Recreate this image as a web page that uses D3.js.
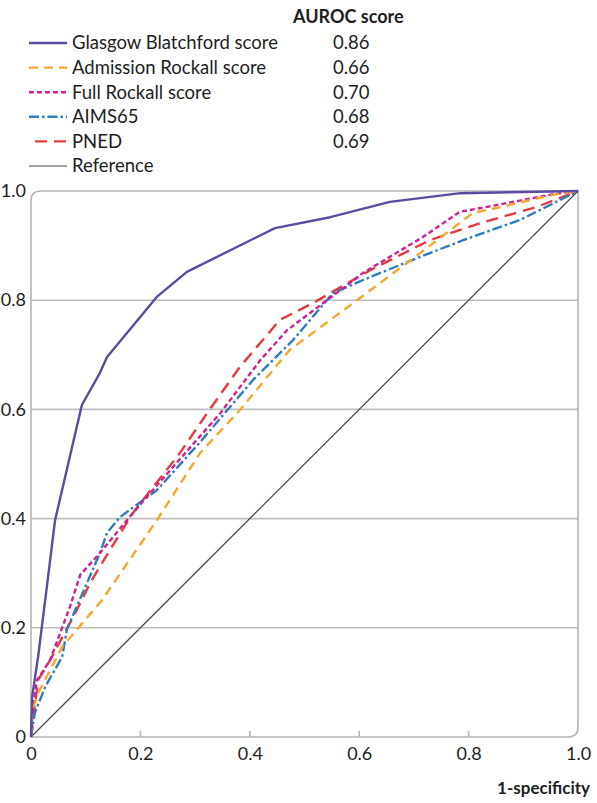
<!DOCTYPE html>
<html>
<head>
<meta charset="utf-8">
<script src="https://cdn.jsdelivr.net/npm/d3@7"></script>
<style>
  body { margin: 0; background: #fff; }
  svg { font-family: Lato, 'Open Sans', sans-serif; }
</style>
</head>
<body>
<svg id="roc" width="597" height="803"></svg>
<script>
// [1-specificity, sensitivity]
const glasgow = [[0, 0], [0.002, 0.073], [0.013, 0.147], [0.026, 0.251], [0.044, 0.397], [0.093, 0.608], [0.126, 0.667], [0.139, 0.696], [0.23, 0.806], [0.285, 0.852], [0.446, 0.932], [0.547, 0.952], [0.656, 0.98], [0.785, 0.996], [1, 1]]
const admission = [[0, 0], [0.002, 0.049], [0.016, 0.086], [0.057, 0.165], [0.13, 0.251], [0.23, 0.397], [0.309, 0.52], [0.382, 0.599], [0.473, 0.709], [0.596, 0.8], [0.711, 0.886], [0.808, 0.96], [0.852, 0.969], [0.954, 0.993], [1, 1]]
const fullRockall = [[0, 0], [0.004, 0.06], [0.011, 0.104], [0.035, 0.141], [0.071, 0.238], [0.09, 0.297], [0.126, 0.337], [0.186, 0.41], [0.26, 0.495], [0.346, 0.593], [0.419, 0.69], [0.468, 0.745], [0.541, 0.8], [0.607, 0.85], [0.717, 0.916], [0.784, 0.962], [0.834, 0.971], [0.954, 0.994], [1, 1]]
const aims65 = [[0, 0], [0.007, 0.044], [0.026, 0.092], [0.057, 0.147], [0.066, 0.198], [0.126, 0.337], [0.139, 0.374], [0.163, 0.403], [0.23, 0.452], [0.309, 0.54], [0.406, 0.654], [0.479, 0.727], [0.552, 0.813], [0.607, 0.837], [0.698, 0.874], [0.79, 0.91], [0.894, 0.947], [1, 1]]
const pned = [[0, 0], [0.013, 0.104], [0.035, 0.141], [0.084, 0.233], [0.108, 0.282], [0.144, 0.342], [0.186, 0.41], [0.272, 0.52], [0.322, 0.593], [0.382, 0.678], [0.455, 0.764], [0.516, 0.795], [0.62, 0.855], [0.729, 0.91], [0.821, 0.941], [0.925, 0.971], [1, 1]]
const reference = [[0, 0], [1, 1]]

const seriesNames = ['Glasgow Blatchford score', 'Admission Rockall score', 'Full Rockall score', 'AIMS65', 'PNED', 'Reference']
const aurocScores = ['0.86', '0.66', '0.70', '0.68', '0.69', '']
const xTicks = [0, 0.2, 0.4, 0.6, 0.8, 1]
const yTicks = [0, 0.2, 0.4, 0.6, 0.8, 1]

const series = [
  { values: glasgow, color: '#5b4c9f', dash: null, width: 2.4 },
  { values: admission, color: '#f6a731', dash: '9,6', width: 2.4 },
  { values: fullRockall, color: '#cf2190', dash: '5,3', width: 2.4 },
  { values: aims65, color: '#2f7cbd', dash: '10,3,2.5,3', width: 2.4 },
  { values: pned, color: '#e53a40', dash: '12,7', width: 2.4 },
  { values: reference, color: '#444', dash: null, width: 1.2 }
]

const svg = d3.select('#roc')
const x = d3.scaleLinear().domain([0, 1]).range([31, 578])
const y = d3.scaleLinear().domain([0, 1]).range([737, 191])

// grid
svg.append('g')
  .selectAll('line')
  .data(yTicks.filter(d => d > 0 && d < 1))
  .enter()
  .append('line')
  .attr('x1', x(0))
  .attr('x2', x(1))
  .attr('y1', d => y(d))
  .attr('y2', d => y(d))
  .attr('stroke', '#bdbdbd')
  .attr('stroke-width', 1.6)

// frame, rounded top-left and bottom-right
const r = 10
const p = d3.path()
p.moveTo(x(0), y(0))
p.lineTo(x(0), y(1) + r)
p.quadraticCurveTo(x(0), y(1), x(0) + r, y(1))
p.lineTo(x(1), y(1))
p.lineTo(x(1), y(0) - r)
p.quadraticCurveTo(x(1), y(0), x(1) - r, y(0))
p.closePath()
svg.append('path')
  .attr('d', p.toString())
  .attr('fill', 'none')
  .attr('stroke', '#b5b5b5')
  .attr('stroke-width', 1.6)

svg.append('g')
  .selectAll('line')
  .data(xTicks.filter(d => d > 0 && d < 1))
  .enter()
  .append('line')
  .attr('x1', d => x(d))
  .attr('x2', d => x(d))
  .attr('y1', y(0))
  .attr('y2', y(0) - 6)
  .attr('stroke', '#b5b5b5')
  .attr('stroke-width', 1.6)

const fmt = d => (d === 0 ? '0' : d.toFixed(1))

const xAxis = svg.append('g')
  .attr('transform', 'translate(0,' + y(0) + ')')
  .call(d3.axisBottom(x).tickValues(xTicks).tickFormat(fmt).tickSize(0).tickPadding(10))
const yAxis = svg.append('g')
  .attr('transform', 'translate(' + x(0) + ',0)')
  .call(d3.axisLeft(y).tickValues(yTicks).tickFormat(fmt).tickSize(0).tickPadding(5))
;[xAxis, yAxis].forEach(a => {
  a.select('.domain').remove()
  a.selectAll('text')
    .attr('font-size', 18)
    .attr('font-family', 'Lato, sans-serif')
    .attr('fill', '#1e1e1e')
})

svg.append('text')
  .text('1-specificity')
  .attr('x', 590)
  .attr('y', 794)
  .attr('text-anchor', 'end')
  .attr('font-size', 17)
  .attr('font-weight', 'bold')
  .attr('fill', '#1e1e1e')

// curves
const line = d3.line().x(d => x(d[0])).y(d => y(d[1]))
svg.append('g')
  .selectAll('path')
  .data(series.slice().reverse())
  .enter()
  .append('path')
  .attr('d', d => line(d.values))
  .attr('fill', 'none')
  .attr('stroke', d => d.color)
  .attr('stroke-width', d => d.width)
  .attr('stroke-dasharray', d => d.dash)
  .attr('stroke-linejoin', 'round')

// legend
svg.append('text')
  .text('AUROC score')
  .attr('x', 293)
  .attr('y', 23)
  .attr('font-size', 18)
  .attr('font-weight', 'bold')
  .attr('fill', '#1e1e1e')

const rowY = d3.scaleLinear().domain([0, 5]).range([43, 166])
const legend = svg.append('g')
  .selectAll('g')
  .data(series)
  .enter()
  .append('g')
  .attr('transform', (d, i) => 'translate(0,' + rowY(i) + ')')

legend.append('line')
  .attr('x1', (d, i) => (i === 4 ? 35 : 29))
  .attr('x2', 67)
  .attr('stroke', d => d.color)
  .attr('stroke-width', d => d.width)
  .attr('stroke-dasharray', d => d.dash)

legend.append('text')
  .text((d, i) => seriesNames[i])
  .attr('x', 72)
  .attr('dy', '0.35em')
  .attr('font-size', 18.5)
  .attr('fill', '#1e1e1e')

legend.append('text')
  .text((d, i) => aurocScores[i])
  .attr('x', 333)
  .attr('dy', '0.35em')
  .attr('font-size', 18.5)
  .attr('fill', '#1e1e1e')
</script>
</body>
</html>
